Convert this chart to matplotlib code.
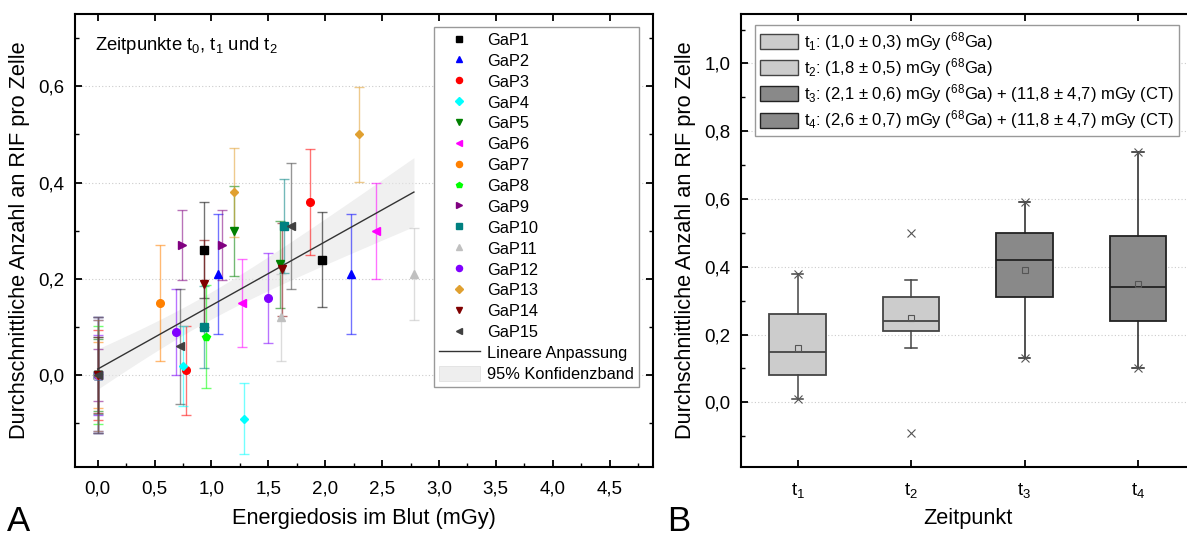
import matplotlib
matplotlib.use("Agg")
import matplotlib.pyplot as plt
import matplotlib.ticker as mticker
from matplotlib.lines import Line2D
from matplotlib.patches import Patch
import numpy as np

plt.rcParams['font.family'] = ['Liberation Sans', 'DejaVu Sans']
plt.rcParams['mathtext.fontset'] = 'custom'
plt.rcParams['mathtext.rm'] = 'Liberation Sans'
plt.rcParams['mathtext.it'] = 'Liberation Sans:italic'
plt.rcParams['mathtext.bf'] = 'Liberation Sans:bold'

## panel A -- one list per patient (t0, t1, t2)
patients = ["GaP%d" % i for i in range(1, 16)]
dose = [
    [0.0, 0.93, 1.97],   # GaP1
    [0.0, 1.06, 2.23],   # GaP2
    [0.0, 0.78, 1.87],   # GaP3
    [0.0, 0.75, 1.29],   # GaP4
    [0.0, 1.20, 1.60],   # GaP5
    [0.0, 1.27, 2.45],   # GaP6
    [0.0, 0.55],         # GaP7
    [0.0, 0.95],         # GaP8
    [0.0, 0.74, 1.09],   # GaP9
    [0.0, 0.93, 1.64],   # GaP10
    [0.0, 1.61, 2.78],   # GaP11
    [0.0, 0.69, 1.50],   # GaP12
    [0.0, 1.20, 2.30],   # GaP13
    [0.0, 0.93, 1.62],   # GaP14
    [0.0, 0.72, 1.70],   # GaP15
]
rif = [
    [0.0, 0.26, 0.24],
    [0.0, 0.21, 0.21],
    [0.0, 0.01, 0.36],
    [0.0, 0.02, -0.09],
    [0.0, 0.30, 0.23],
    [0.0, 0.15, 0.30],
    [0.0, 0.15],
    [0.0, 0.08],
    [0.0, 0.27, 0.27],
    [0.0, 0.10, 0.31],
    [0.0, 0.12, 0.21],
    [0.0, 0.09, 0.16],
    [0.0, 0.38, 0.50],
    [0.0, 0.19, 0.22],
    [0.0, 0.06, 0.31],
]
rif_err = [
    [0.120, 0.100, 0.098],
    [0.115, 0.125, 0.125],
    [0.094, 0.093, 0.110],
    [0.120, 0.083, 0.074],
    [0.075, 0.093, 0.090],
    [0.120, 0.092, 0.100],
    [0.069, 0.120],
    [0.102, 0.107],
    [0.054, 0.073, 0.073],
    [0.080, 0.085, 0.098],
    [0.120, 0.090, 0.095],
    [0.083, 0.090, 0.094],
    [0.115, 0.092, 0.098],
    [0.079, 0.090, 0.097],
    [0.120, 0.120, 0.130],
]
colors = ['#000000', '#0000ff', '#ff0000', '#00ffff', '#008000', '#ff00ff', '#ff8000',
          '#00ff00', '#800080', '#008080', '#c0c0c0', '#8000ff', '#e0a030', '#800000', '#404040']
markers = ['s', '^', 'o', 'D', 'v', '<', 'o', 'p', '>', 's', '^', 'o', 'D', 'v', '<']

## panel B -- box statistics read per time point
timepoints = ["t$_1$", "t$_2$", "t$_3$", "t$_4$"]
box_q1 = [0.08, 0.21, 0.31, 0.24]
box_median = [0.15, 0.24, 0.42, 0.34]
box_q3 = [0.26, 0.31, 0.50, 0.49]
box_mean = [0.16, 0.25, 0.39, 0.35]
whisker_low = [0.01, 0.16, 0.13, 0.10]
whisker_high = [0.38, 0.36, 0.59, 0.74]
rif_min = [0.01, -0.09, 0.13, 0.10]
rif_max = [0.38, 0.50, 0.59, 0.74]
box_labels = [
    "t$_1$: (1,0 ± 0,3) mGy ($^{68}$Ga)",
    "t$_2$: (1,8 ± 0,5) mGy ($^{68}$Ga)",
    "t$_3$: (2,1 ± 0,6) mGy ($^{68}$Ga) + (11,8 ± 4,7) mGy (CT)",
    "t$_4$: (2,6 ± 0,7) mGy ($^{68}$Ga) + (11,8 ± 4,7) mGy (CT)",
]
box_faces = ['#cccccc', '#cccccc', '#898989', '#898989']
box_edges = ['#444444', '#444444', '#222222', '#222222']

comma = mticker.FuncFormatter(lambda v, _: ("%.1f" % v).replace('.', ','))

TICK_FS = 13.5
LABEL_FS = 15.7


def style_axes(ax):
    for sp in ax.spines.values():
        sp.set_linewidth(1.5)
    ax.tick_params(which='major', direction='in', length=5, width=1.3, labelsize=TICK_FS)
    ax.tick_params(which='minor', direction='in', length=3, width=1.0)
    ax.tick_params(axis='y', pad=7.5)
    ax.tick_params(axis='x', pad=10)
    ax.yaxis.grid(True, which='major', linestyle=(0, (1, 2)), color='#cccccc', lw=0.8)
    ax.set_axisbelow(True)


def panel_a(ax):
    style_axes(ax)
    for i, name in enumerate(patients):
        ax.errorbar(dose[i], rif[i], yerr=rif_err[i], fmt='none', ecolor=colors[i],
                    alpha=0.55, capsize=3.3, elinewidth=1, capthick=1, zorder=2)
        ax.plot(dose[i], rif[i], linestyle='none', marker=markers[i], color=colors[i],
                ms=5.5 if markers[i] != 'D' else 4.5, label=name, zorder=3)

    # linear fit + 95% confidence band
    x_all = np.concatenate([np.array(d) for d in dose])
    y_all = np.concatenate([np.array(r) for r in rif])
    slope, icpt = np.polyfit(x_all, y_all, 1)
    n = len(x_all)
    resid = y_all - (slope * x_all + icpt)
    s = np.sqrt(np.sum(resid ** 2) / (n - 2))
    sxx = np.sum((x_all - x_all.mean()) ** 2)
    xs = np.linspace(0, x_all.max(), 100)
    ys = slope * xs + icpt
    half = 2.02 * s * np.sqrt(1.0 / n + (xs - x_all.mean()) ** 2 / sxx)
    ax.fill_between(xs, ys - half, ys + half, color='#e6e6e6', alpha=0.6, lw=0, zorder=1)
    ax.plot(xs, ys, color='#333333', lw=1.0, zorder=2.5)

    ax.set_xlim(-0.2, 4.88)
    ax.set_ylim(-0.19, 0.75)
    ax.xaxis.set_major_locator(mticker.MultipleLocator(0.5))
    ax.xaxis.set_minor_locator(mticker.MultipleLocator(0.25))
    ax.yaxis.set_major_locator(mticker.MultipleLocator(0.2))
    ax.yaxis.set_minor_locator(mticker.MultipleLocator(0.1))
    ax.xaxis.set_major_formatter(comma)
    ax.yaxis.set_major_formatter(comma)
    ax.tick_params(which='both', top=True, right=True)
    ax.tick_params(which='minor', top=False)

    ax.set_xlabel("Energiedosis im Blut (mGy)", fontsize=LABEL_FS)
    ax.set_ylabel("Durchschnittliche Anzahl an RIF pro Zelle", fontsize=LABEL_FS)
    ax.xaxis.set_label_coords(0.5, -0.092)
    ax.yaxis.set_label_coords(-0.078, 0.5)
    ax.text(0.035, 0.93, "Zeitpunkte t$_0$, t$_1$ und t$_2$", transform=ax.transAxes,
            fontsize=13.3, va='center')

    handles, labels = ax.get_legend_handles_labels()
    handles += [Line2D([], [], color='#333333', lw=1.0),
                Patch(facecolor='#eeeeee', edgecolor='#dddddd', lw=0.5)]
    labels += ["Lineare Anpassung", "95% Konfidenzband"]
    leg = ax.legend(handles, labels, loc='upper right', bbox_to_anchor=(0.976, 0.971),
                    borderaxespad=0, fontsize=11.8, labelspacing=0.3, handlelength=2.5,
                    handleheight=1.0, handletextpad=0.45, fancybox=False, borderpad=0.3,
                    markerscale=0.8, framealpha=1)
    leg.get_frame().set_edgecolor('#999999')
    leg.get_frame().set_linewidth(1.0)


def panel_b(ax):
    style_axes(ax)
    positions = [1, 2, 3, 4]
    stats = []
    for i in range(len(timepoints)):
        stats.append(dict(med=box_median[i], q1=box_q1[i], q3=box_q3[i],
                          whislo=whisker_low[i], whishi=whisker_high[i],
                          mean=box_mean[i], fliers=[]))
    bp = ax.bxp(stats, positions=positions, widths=0.5, capwidths=0.1, patch_artist=True,
                showmeans=True, showfliers=False,
                meanprops=dict(marker='s', mfc='none', mec='#555555', ms=5, mew=0.8))
    for i, box in enumerate(bp['boxes']):
        box.set_facecolor(box_faces[i])
        box.set_edgecolor(box_edges[i])
        box.set_linewidth(1.3)
        bp['medians'][i].set_color(box_edges[i])
        bp['medians'][i].set_linewidth(1.3)
        for k in (2 * i, 2 * i + 1):
            bp['whiskers'][k].set_color(box_edges[i])
            bp['whiskers'][k].set_linewidth(1.1)
            bp['caps'][k].set_color(box_edges[i])
            bp['caps'][k].set_linewidth(1.1)
    ax.plot(positions, rif_min, 'x', color='#555555', ms=6, mew=0.8, zorder=4)
    ax.plot(positions, rif_max, 'x', color='#555555', ms=6, mew=0.8, zorder=4)

    ax.set_xlim(0.5, 4.5)
    ax.set_ylim(-0.19, 1.146)
    ax.set_xticks(positions)
    ax.set_xticklabels(timepoints)
    ax.yaxis.set_major_locator(mticker.MultipleLocator(0.2))
    ax.yaxis.set_minor_locator(mticker.MultipleLocator(0.1))
    ax.yaxis.set_major_formatter(comma)
    ax.tick_params(which='major', top=True, right=True)

    ax.set_xlabel("Zeitpunkt", fontsize=LABEL_FS)
    ax.set_ylabel("Durchschnittliche Anzahl an RIF pro Zelle", fontsize=LABEL_FS)
    ax.xaxis.set_label_coords(0.5, -0.092)
    ax.yaxis.set_label_coords(-0.099, 0.5)

    handles = [Patch(facecolor=box_faces[i], edgecolor=box_edges[i], lw=1.0)
               for i in range(len(box_labels))]
    leg = ax.legend(handles, box_labels, loc='upper left', bbox_to_anchor=(0.031, 0.976),
                    borderaxespad=0, fontsize=12, labelspacing=0.2, handlelength=2.3,
                    handleheight=1.0, handletextpad=0.35, fancybox=False, borderpad=0.3,
                    framealpha=1)
    leg.get_frame().set_edgecolor('#999999')
    leg.get_frame().set_linewidth(1.0)


if __name__ == "__main__":
    fig = plt.figure(figsize=(11.87, 5.37), dpi=100)
    ax_a = fig.add_axes([0.0632, 0.1309, 0.4867, 0.843])
    ax_b = fig.add_axes([0.6243, 0.1309, 0.3821, 0.843])
    panel_a(ax_a)
    panel_b(ax_b)
    fig.text(0.006, 0.012, "A", fontsize=25, va='baseline')
    fig.text(0.562, 0.012, "B", fontsize=25, va='baseline')
    fig.savefig("out.png", dpi=100)
